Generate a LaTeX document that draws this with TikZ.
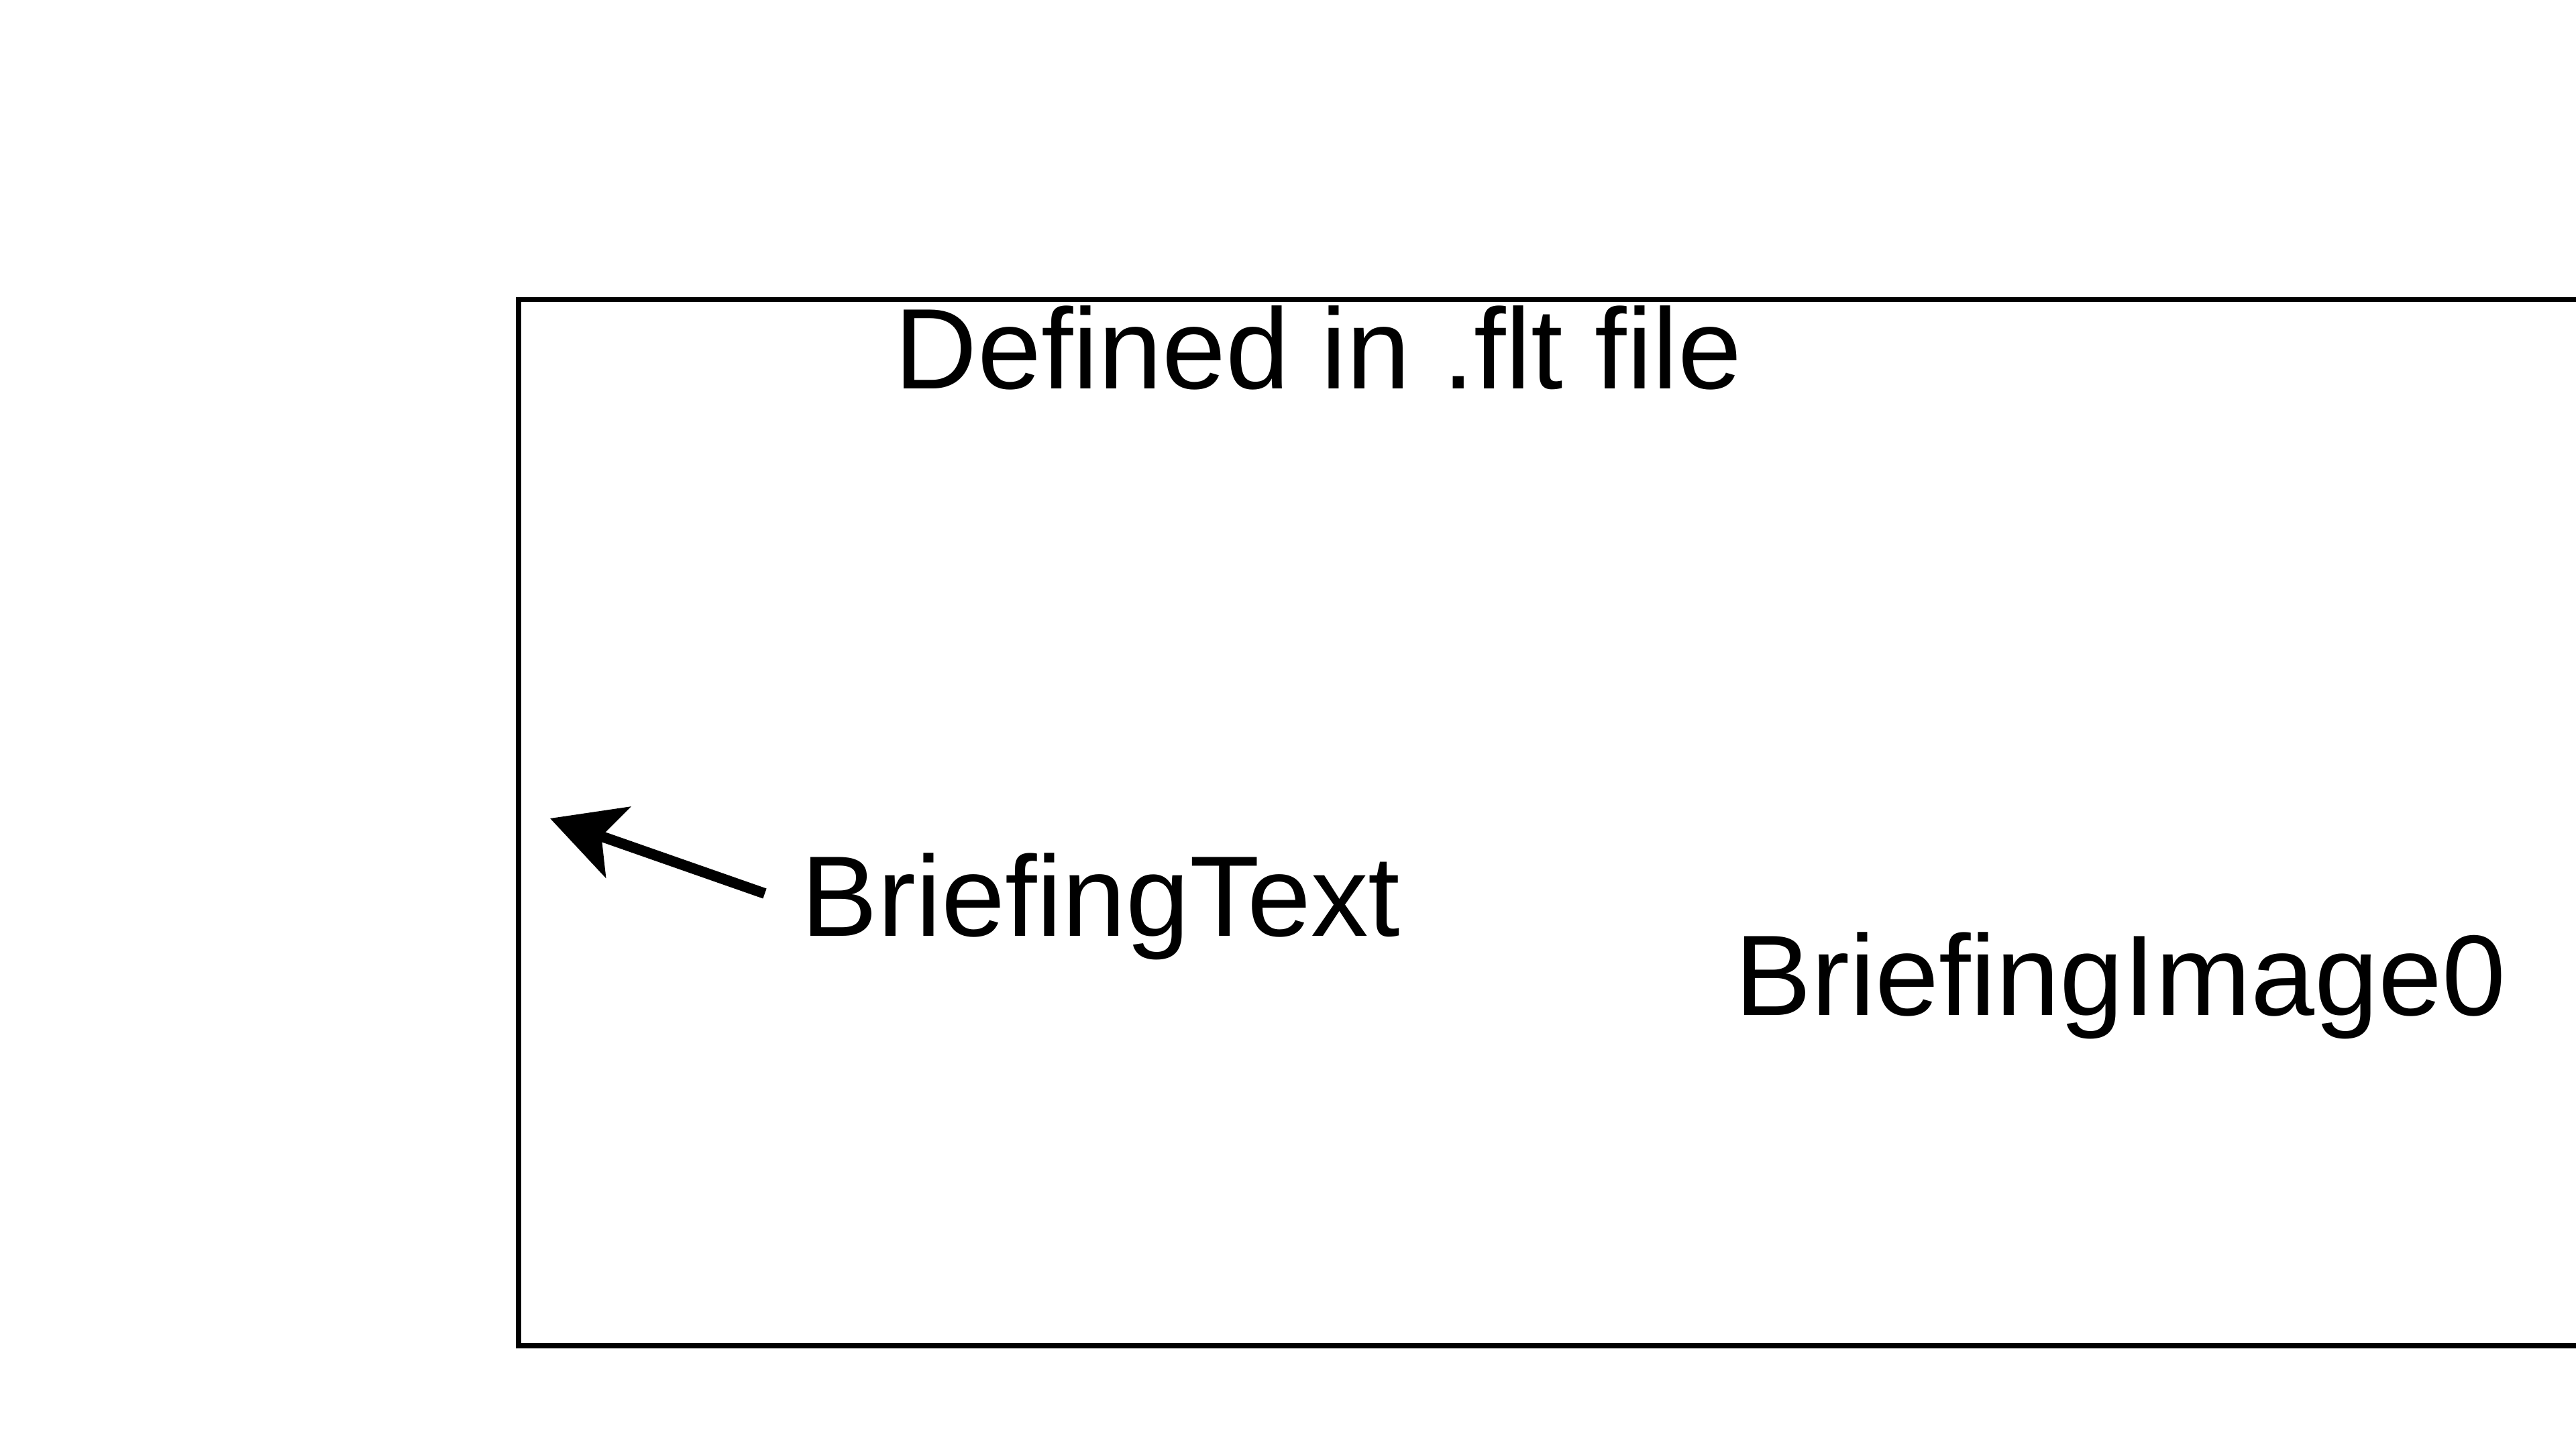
\documentclass[tikz,border=0pt]{standalone}
\usepackage{fontspec}
\setmainfont{Liberation Sans}
\usetikzlibrary{arrows.meta}

\begin{document}
\begin{tikzpicture}
    \tikzstyle{lbl} = [inner sep=0pt, anchor=base west, font=\fontsize{48.6pt}{58pt}\selectfont]
    \tikzstyle{pointer} = [line width=4.5pt, -{Stealth[length=10.7mm, width=11.1mm, inset=2.6mm]}]

    % Page and clipping (the frame runs off the right edge)
    \useasboundingbox (0,0) rectangle (38.4,21.6);
    \clip (0,0) rectangle (38.4,21.6);

    % Outer frame
    \draw[line width=2pt] (7.73,1.54) rectangle (38.8,17.13);

    % Labels
    \node[lbl] (flt) at (13.33,15.80) {Defined in .flt file};
    \node[lbl] (btext) at (11.94,7.64) {BriefingText};
    \node[lbl] (bimage) at (25.86,6.46) {BriefingImage0};

    % Arrow pointing at the frame
    \coordinate (tip) at (8.20,9.40);
    \draw[pointer] ([shift={(-0.54,0.64)}]btext.base west) -- (tip);
\end{tikzpicture}
\end{document}
